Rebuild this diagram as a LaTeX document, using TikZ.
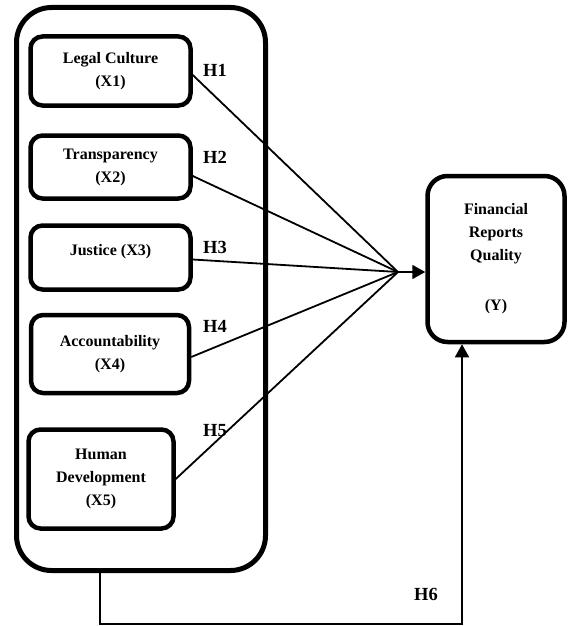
\documentclass[tikz,border=0pt]{standalone}
\usepackage{fontspec}
\setmainfont{Liberation Serif}
\usetikzlibrary{arrows.meta}
\tikzset{
	var/.style={draw, line width=4.5pt, rounded corners=12pt, align=center,
		font=\bfseries\fontsize{16}{23}\selectfont},
	hyp/.style={font=\bfseries\fontsize{18.5}{20}\selectfont},
	path/.style={line width=1.8pt},
	tip/.style={-{Triangle[length=13pt,width=14pt]}}
}

\begin{document}
\begin{tikzpicture}[x=1pt,y=-1pt]
	\useasboundingbox (0,0) rectangle (570,626);
	\node[draw, line width=5pt, rounded corners=35pt, minimum width=249pt, minimum height=563pt] (outer) at (141,289) {};
	\node[var, minimum width=160pt, minimum height=69pt] (x1) at (110.5,71) {Legal Culture\\(X1)};
	\node[var, minimum width=160pt, minimum height=63pt] (x2) at (110.5,167) {Transparency\\(X2)};
	\node[var, minimum width=160pt, minimum height=64pt, text depth=15pt] (x3) at (110.5,257.5) {Justice (X3)};
	\node[var, minimum width=158pt, minimum height=78pt] (x4) at (110,354) {Accountability\\(X4)};
	\node[var, minimum width=145pt, minimum height=99pt] (x5) at (101,479) {Human\\Development\\(X5)};
	\node[var, rounded corners=20pt, minimum width=137pt, minimum height=166pt] (y) at (496,259) {Financial\\Reports\\Quality\\[27pt](Y)};
	\coordinate (meet) at (398,272);
	\draw[path] ([yshift=-4pt]x1.east) -- (meet);
	\draw[path] ([yshift=-9pt]x2.east) -- (meet);
	\draw[path] ([yshift=-2pt]x3.east) -- (meet);
	\draw[path] ([yshift=-3pt]x4.east) -- (meet);
	\draw[path] (x5.east) -- (meet);
	\draw[path, tip] (meet) -- (y.west |- meet);
	\node[hyp] (h1) at (215,70.5) {H1};
	\node[hyp] (h2) at (215,157.5) {H2};
	\node[hyp] (h3) at (215,247.5) {H3};
	\node[hyp] (h4) at (215,326) {H4};
	\node[hyp] (h5) at (215,430.5) {H5};
	\node[hyp] (h6) at (426,594) {H6};
	\coordinate (b1) at (100,624);
	\coordinate (b2) at (462,624);
	\draw[line width=1.5pt, tip] (outer.south -| b1) -- (b1) -- (b2) -- (y.south -| b2);
\end{tikzpicture}
\end{document}
